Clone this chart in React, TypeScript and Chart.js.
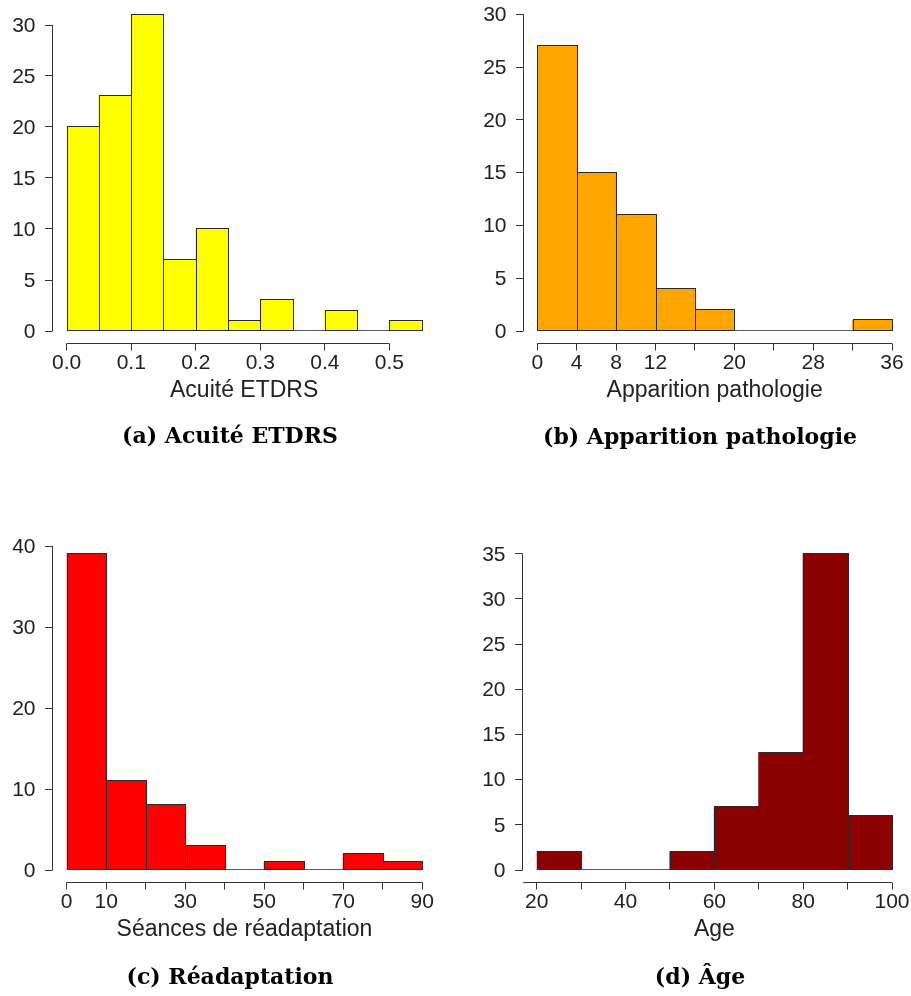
import React, { useEffect, useRef } from "react";
import { Chart, registerables } from "chart.js";

Chart.register(...registerables);

// ---------- data ----------
const acuiteEdges = [0, 0.05, 0.1, 0.15, 0.2, 0.25, 0.3, 0.35, 0.4, 0.45, 0.5, 0.55];
const acuiteCounts = [20, 23, 31, 7, 10, 1, 3, 0, 2, 0, 1];
const acuiteXTicks = [0, 0.1, 0.2, 0.3, 0.4, 0.5];
const acuiteXLabels = ["0.0", "0.1", "0.2", "0.3", "0.4", "0.5"];
const acuiteYTicks = [0, 5, 10, 15, 20, 25, 30];

const apparitionEdges = [0, 4, 8, 12, 16, 20, 24, 28, 32, 36];
const apparitionCounts = [27, 15, 11, 4, 2, 0, 0, 0, 1];
const apparitionXTicks = [0, 4, 8, 12, 16, 20, 24, 28, 32, 36];
const apparitionXLabels = ["0", "4", "8", "12", "", "20", "", "28", "", "36"];
const apparitionYTicks = [0, 5, 10, 15, 20, 25, 30];

const seancesEdges = [0, 10, 20, 30, 40, 50, 60, 70, 80, 90];
const seancesCounts = [39, 11, 8, 3, 0, 1, 0, 2, 1];
const seancesXTicks = [0, 10, 20, 30, 40, 50, 60, 70, 80, 90];
const seancesXLabels = ["0", "10", "", "30", "", "50", "", "70", "", "90"];
const seancesYTicks = [0, 10, 20, 30, 40];

const ageEdges = [20, 30, 40, 50, 60, 70, 80, 90, 100];
const ageCounts = [2, 0, 0, 2, 7, 13, 35, 6];
const ageXTicks = [20, 30, 40, 50, 60, 70, 80, 90, 100];
const ageXLabels = ["20", "", "40", "", "60", "", "80", "", "100"];
const ageYTicks = [0, 5, 10, 15, 20, 25, 30, 35];
const ageAxisRange = [17, 100];

type Panel = {
  edges: number[];
  counts: number[];
  xTicks: number[];
  xLabels: string[];
  yTicks: number[];
  axisRange: number[];
  yMax: number;
  color: string;
  xTitle: string;
  caption: string;
  // layout
  left: number;
  top: number;
  width: number;
  height: number;
  plotLeft: number;
  plotRight: number;
  plotTop: number;
  plotBottom: number;
  capX: number;
  capY: number;
};

const panels: Panel[] = [
  {
    edges: acuiteEdges, counts: acuiteCounts, xTicks: acuiteXTicks, xLabels: acuiteXLabels,
    yTicks: acuiteYTicks, axisRange: [0, 0.5], yMax: 32, color: "#FFFF00",
    xTitle: "Acuité ETDRS", caption: "(a) Acuité ETDRS",
    left: 0, top: 0, width: 455, height: 460,
    plotLeft: 66.7, plotRight: 421.6, plotTop: 4.6, plotBottom: 331, capX: 230, capY: 437,
  },
  {
    edges: apparitionEdges, counts: apparitionCounts, xTicks: apparitionXTicks, xLabels: apparitionXLabels,
    yTicks: apparitionYTicks, axisRange: [0, 36], yMax: 31, color: "#FFA500",
    xTitle: "Apparition pathologie", caption: "(b) Apparition pathologie",
    left: 455, top: 0, width: 456, height: 460,
    plotLeft: 82.3, plotRight: 437, plotTop: 3.7, plotBottom: 331, capX: 245, capY: 438,
  },
  {
    edges: seancesEdges, counts: seancesCounts, xTicks: seancesXTicks, xLabels: seancesXLabels,
    yTicks: seancesYTicks, axisRange: [0, 90], yMax: 41, color: "#FF0000",
    xTitle: "Séances de réadaptation", caption: "(c) Réadaptation",
    left: 0, top: 520, width: 455, height: 476,
    plotLeft: 66.7, plotRight: 422.3, plotTop: 17.9, plotBottom: 350, capX: 230, capY: 458,
  },
  {
    edges: ageEdges, counts: ageCounts, xTicks: ageXTicks, xLabels: ageXLabels,
    yTicks: ageYTicks, axisRange: ageAxisRange, yMax: 36, color: "#8B0000",
    xTitle: "Age", caption: "(d) Âge",
    left: 455, top: 520, width: 456, height: 476,
    plotLeft: 81.7, plotRight: 437, plotTop: 24.7, plotBottom: 350, capX: 245, capY: 458,
  },
];

const TICK_FONT = '21px "Liberation Sans", Arial, sans-serif';
const TITLE_FONT = '23px "Liberation Sans", Arial, sans-serif';
const AXIS_COLOR = "#333333";

function crisp(v: number) {
  return Math.round(v) + 0.5;
}

function HistPanel({ p }: { p: Panel }) {
  const ref = useRef<HTMLCanvasElement | null>(null);

  useEffect(() => {
    if (!ref.current) return;
    const data = p.counts.map((c, i) => ({ x: (p.edges[i] + p.edges[i + 1]) / 2, y: c }));
    const rAxes = {
      id: "rAxes",
      afterDatasetsDraw(chart: any) {
        const ctx = chart.ctx as CanvasRenderingContext2D;
        const meta = chart.getDatasetMeta(0);
        ctx.save();
        ctx.strokeStyle = "#2a2a2a";
        ctx.lineWidth = 1;
        meta.data.forEach((el: any, i: number) => {
          const l = Math.round(el.x - el.width / 2);
          const r = Math.round(el.x + el.width / 2);
          const t = Math.round(el.y);
          const b = Math.round(el.base);
          ctx.strokeStyle = p.counts[i] === 0 ? "#555555" : "#2a2a2a";
          ctx.strokeRect(l + 0.5, t - 0.5, r - l, b - t);
        });
        ctx.restore();
      },
      afterDraw(chart: any) {
        const ctx = chart.ctx as CanvasRenderingContext2D;
        const xs = chart.scales.x;
        const ys = chart.scales.y;
        const y0 = ys.getPixelForValue(0);
        ctx.save();
        ctx.lineWidth = 1;
        ctx.strokeStyle = AXIS_COLOR;
        ctx.fillStyle = "#222222";
        // y axis
        const ax = crisp(chart.chartArea.left - 14.5);
        const yTop = ys.getPixelForValue(p.yTicks[p.yTicks.length - 1]);
        ctx.beginPath();
        ctx.moveTo(ax, y0);
        ctx.lineTo(ax, yTop);
        p.yTicks.forEach((t) => {
          const py = crisp(ys.getPixelForValue(t) - 0.5);
          ctx.moveTo(ax, py);
          ctx.lineTo(ax - 7.5, py);
        });
        ctx.stroke();
        ctx.font = TICK_FONT;
        ctx.textAlign = "right";
        ctx.textBaseline = "middle";
        p.yTicks.forEach((t) => {
          ctx.fillText(String(t), ax - 17, ys.getPixelForValue(t) + 1);
        });

        // x axis
        const axY = crisp(y0 + 12);
        ctx.beginPath();
        ctx.moveTo(xs.getPixelForValue(p.axisRange[0]), axY);
        ctx.lineTo(xs.getPixelForValue(p.axisRange[1]), axY);
        p.xTicks.forEach((t) => {
          const px = crisp(xs.getPixelForValue(t) - 0.5);
          ctx.moveTo(px, axY);
          ctx.lineTo(px, axY + 7);
        });
        ctx.stroke();
        ctx.textAlign = "center";
        p.xTicks.forEach((t, i) => {
          const lab = p.xLabels[i];
          if (lab) ctx.fillText(lab, xs.getPixelForValue(t), axY + 19.5);
        });
        ctx.font = TITLE_FONT;
        ctx.fillText(p.xTitle, (chart.chartArea.left + chart.chartArea.right) / 2, axY + 47);
        ctx.restore();
      },
    };

    const chart = new Chart(ref.current, {
      type: "bar",
      data: {
        datasets: [
          {
            data,
            backgroundColor: p.color,
            borderWidth: 0,
            barPercentage: 1,
            categoryPercentage: 1,
            inflateAmount: 0.5,
          } as any,
        ],
      },
      options: {
        responsive: false,
        animation: false,
        events: [],
        layout: {
          padding: {
            left: p.plotLeft,
            right: p.width - p.plotRight,
            top: p.plotTop,
            bottom: p.height - p.plotBottom,
          },
        },
        plugins: { legend: { display: false }, tooltip: { enabled: false } },
        scales: {
          x: {
            type: "linear",
            display: false,
            offset: false,
            min: p.edges[0],
            max: p.edges[p.edges.length - 1],
          },
          y: { display: false, min: 0, max: p.yMax },
        },
      },
      plugins: [rAxes],
    });
    return () => chart.destroy();
  }, [p]);

  return (
    <div style={{ position: "absolute", left: p.left, top: p.top, width: p.width, height: p.height }}>
      <canvas ref={ref} width={p.width} height={p.height} style={{ display: "block" }} />
      <div
        style={{
          position: "absolute",
          left: p.capX - 200,
          width: 400,
          top: p.capY - 15,
          height: 30,
          lineHeight: "30px",
          textAlign: "center",
          font: 'bold 22px "DejaVu Serif", serif',
          color: "#000",
          whiteSpace: "nowrap",
        }}
      >
        {p.caption}
      </div>
    </div>
  );
}

export default function App() {
  return (
    <div
      style={{
        position: "absolute",
        left: 0,
        top: 0,
        width: 911,
        height: 996,
        background: "#ffffff",
        overflow: "hidden",
      }}
    >
      {panels.map((p, i) => (
        <HistPanel key={i} p={p} />
      ))}
    </div>
  );
}
